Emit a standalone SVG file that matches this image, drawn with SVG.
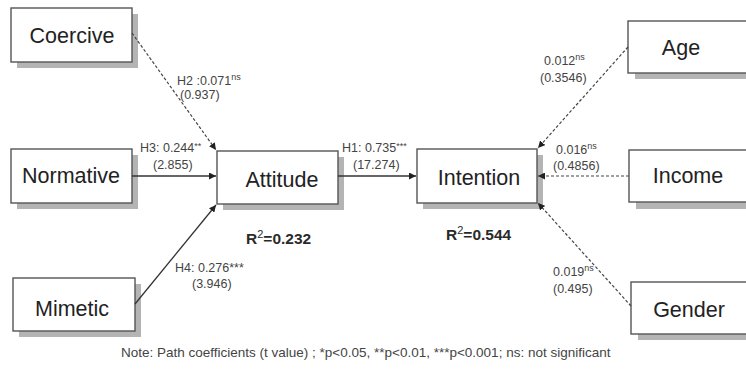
<svg xmlns="http://www.w3.org/2000/svg" width="746" height="370" viewBox="0 0 746 370">
<style>
.bg{fill:#ffffff}
.shadow{fill:#b4b4b4}
.box{fill:#ffffff;stroke:#555555;stroke-width:1.4}
.lbl{font-family:"Liberation Sans",Arial,sans-serif;font-size:21.5px;fill:#222222;text-anchor:middle}
.edge{font-family:"Liberation Sans",Arial,sans-serif;font-size:12.5px;fill:#444444}
.sup{font-size:9px}
.r2{font-family:"Liberation Sans",Arial,sans-serif;font-size:15.5px;font-weight:bold;fill:#2a2a2a}
.r2sup{font-size:11px;font-weight:normal}
.note{font-family:"Liberation Sans",Arial,sans-serif;font-size:13.5px;fill:#444444}
.solid{stroke:#333333;stroke-width:1.3;fill:none}
.dash{stroke:#444444;stroke-width:1.2;fill:none;stroke-dasharray:3 2}
</style>
<defs>
<marker id="arr" viewBox="0 0 10 10" refX="10" refY="5" markerWidth="7" markerHeight="7" markerUnits="userSpaceOnUse" orient="auto">
<path d="M0,0 L10,5 L0,10 z" fill="#222222"/>
</marker>
</defs>
<rect class="bg" x="0" y="0" width="746" height="370"/>

<g id="coercive">
<rect class="shadow" x="17" y="14" width="121" height="54"/>
<rect class="box" x="11" y="8" width="121" height="54"/>
<text class="lbl" x="72" y="43">Coercive</text>
</g>
<g id="normative">
<rect class="shadow" x="17" y="155" width="121" height="54"/>
<rect class="box" x="11" y="149" width="121" height="54"/>
<text class="lbl" x="71" y="183">Normative</text>
</g>
<g id="mimetic">
<rect class="shadow" x="19" y="284" width="122" height="53"/>
<rect class="box" x="13" y="278" width="122" height="53"/>
<text class="lbl" x="72" y="316">Mimetic</text>
</g>
<g id="attitude">
<rect class="shadow" x="223" y="157" width="121" height="53"/>
<rect class="box" x="217" y="151" width="121" height="53"/>
<text class="lbl" x="282" y="187">Attitude</text>
</g>
<g id="intention">
<rect class="shadow" x="423" y="155" width="120" height="54"/>
<rect class="box" x="417" y="149" width="120" height="54"/>
<text class="lbl" x="479" y="185">Intention</text>
</g>
<g id="age">
<rect class="shadow" x="635" y="27" width="140" height="52"/>
<rect class="box" x="628" y="21" width="140" height="52"/>
<text class="lbl" x="681" y="55">Age</text>
</g>
<g id="income">
<rect class="shadow" x="636" y="156" width="140" height="53"/>
<rect class="box" x="629" y="150" width="140" height="52"/>
<text class="lbl" x="688" y="183">Income</text>
</g>
<g id="gender">
<rect class="shadow" x="638" y="288" width="140" height="52"/>
<rect class="box" x="631" y="282" width="140" height="52"/>
<text class="lbl" x="689" y="317">Gender</text>
</g>

<g id="connectors">
<line class="dash" x1="132" y1="33" x2="216" y2="150" marker-end="url(#arr)"/>
<line class="solid" x1="132" y1="176" x2="216" y2="176" marker-end="url(#arr)"/>
<line class="solid" x1="135" y1="304" x2="216" y2="205" marker-end="url(#arr)"/>
<line class="solid" x1="338" y1="176" x2="416" y2="176" marker-end="url(#arr)"/>
<line class="dash" x1="628" y1="47" x2="538" y2="148" marker-end="url(#arr)"/>
<line class="dash" x1="629" y1="176" x2="538" y2="176" marker-end="url(#arr)"/>
<line class="dash" x1="631" y1="306" x2="538" y2="203" marker-end="url(#arr)"/>
</g>

<g id="labels">
<text class="edge" x="177" y="85">H2 :0.071<tspan class="sup" dy="-5">ns</tspan></text>
<text class="edge" x="180" y="99">(0.937)</text>
<text class="edge" x="140" y="152">H3: 0.244<tspan class="sup" dy="-3">**</tspan></text>
<text class="edge" x="153" y="169">(2.855)</text>
<text class="edge" x="175" y="272">H4: 0.276***</text>
<text class="edge" x="192" y="288">(3.946)</text>
<text class="edge" x="342" y="152">H1: 0.735<tspan class="sup" dy="-3">***</tspan></text>
<text class="edge" x="353" y="169">(17.274)</text>
<text class="edge" x="544" y="65">0.012<tspan class="sup" dy="-5">ns</tspan></text>
<text class="edge" x="540" y="82">(0.3546)</text>
<text class="edge" x="556" y="154">0.016<tspan class="sup" dy="-5">ns</tspan></text>
<text class="edge" x="553" y="170">(0.4856)</text>
<text class="edge" x="553" y="276">0.019<tspan class="sup" dy="-5">ns</tspan></text>
<text class="edge" x="553" y="293">(0.495)</text>
<text class="r2" x="246" y="244">R<tspan class="r2sup" dy="-6">2</tspan><tspan dy="6">=0.232</tspan></text>
<text class="r2" x="446" y="240">R<tspan class="r2sup" dy="-6">2</tspan><tspan dy="6">=0.544</tspan></text>
<text class="note" x="121" y="357">Note: Path coefficients (t value) ; *p&lt;0.05, **p&lt;0.01, ***p&lt;0.001; ns: not significant</text>
</g>
</svg>
